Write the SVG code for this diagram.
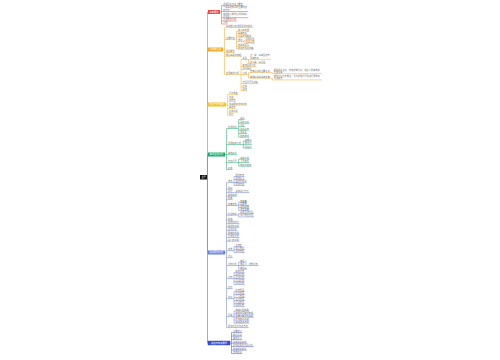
<svg xmlns="http://www.w3.org/2000/svg" width="500" height="360" viewBox="0 0 500 360">
<style>
text{font-family:"Noto Sans CJK SC","Noto Sans",sans-serif}
.t{font-size:2.2px;fill:#777}
.h{font-size:2.3px;fill:#fff;text-anchor:middle}
.c{fill:none;stroke-width:0.5}
.cr{stroke:#e8473f}.co{stroke:#f5a623}.cy{stroke:#f0c21e}.cg{stroke:#16a96a}.cb{stroke:#6b7fdb}.cd{stroke:#3d4ed6}
</style>
<rect width="500" height="360" fill="#fff"/>
<g id="connectors">
<path class="c cr" d="M207.5 177V12H208"/>
<path class="c co" d="M207.5 177V49.5H208"/>
<path class="c cy" d="M207.5 177V104.5H208"/>
<path class="c cg" d="M207.5 177V154.5H208"/>
<path class="c cd" d="M207.5 177V343H208"/>
<path class="c cb" d="M207.5 177V252.5H208"/>
<path class="c cr" d="M220 12H221.5M221.5 5.6V24M221.5 5.6h22.2M221.5 11.5h26.8M221.5 17.7h26.8M221.5 21h15.3M221.5 24h6.1"/>
<path class="c co" d="M223 49.5H224.5M224.5 27.6V74.6M224.5 27.6h29.1M224.5 39.6H236.5M236.5 31.1V49.1M236.5 31.1h13M236.5 34.1h10.7M236.5 37.1h15.3M236.5 41.6H244M244 40.2V43.2M244 40.2h10.7M244 43.2h10.7M236.5 46.1h13M236.5 49.1h17.6M224.5 52.6h10.7M224.5 56.1h17.6M224.5 74.6H241M241 59.6V90.6M241 59.6H248.5M248.5 59.3V63.1M248.5 59.3h22.2M248.5 63.1h17.6M241 66.6h15.3M241 69.6h10.7M241 74.6H248.5M248.5 72.6V78.1M248.5 72.6H272.2V73.7H322M248.5 78.1H272.2V79.9H322M241 83.6h17.6M241 87.1h6.1M241 90.6h6.1"/>
<path class="c cy" d="M226 104.5H227.5M227.5 94.6V115.6M227.5 94.6h10.7M227.5 98.1h6.1M227.5 101.6h8.4M227.5 105.1h19.9M227.5 108.6h8.4M227.5 112.1h10.7M227.5 115.6h6.1"/>
<path class="c cg" d="M225 154.5H226.5M226.5 128.6V169.6M226.5 128.6H238.7M238.7 119.6V137.1M238.7 119.6h6.1M238.7 123.1h10.7M238.7 126.6h6.1M238.7 130.1h10.7M238.7 133.6h8.4M238.7 137.1h10.7M226.5 144.6H243.3M243.3 141.1V148.1M243.3 141.1h8.4M243.3 144.6h8.4M243.3 148.1h8.4M226.5 154.6h10.7M226.5 162.6H238.7M238.7 159.1V166.1M238.7 159.1h10.7M238.7 162.6h10.7M238.7 166.1h13M226.5 169.6h6.1"/>
<path class="c cb" d="M225 252.5H226.5M226.5 182.6V327.6M226.5 182.6H234M234 176.6V185.6M234 176.6h10.7M234 179.6h10.7M234 182.6h13M234 185.6h10.7M226.5 189.1h6.1M226.5 192.6H249.3M226.5 196.1h10.7M226.5 199.6h6.1M226.5 205.6H238.7M238.7 202.1V210.5M238.7 202.1h8.4M238.7 204.9h8.4M238.7 207.7h10.7M238.7 210.5h10.7M226.5 215.1H238.7M238.7 213.6V216.9M238.7 213.6h15.3M238.7 216.9h15.3M226.5 220.1h6.1M226.5 223.6h13M226.5 227.1h13M226.5 230.6h10.7M226.5 234.1h13M226.5 237.6h13M226.5 241.1h13M226.5 250.6H234M234 246.6V252.6M234 246.6h8.4M234 249.6h10.7M234 252.6h10.7M226.5 257.6h6.1M226.5 265.6H238.7M238.7 262.1V269.1M238.7 262.1h8.4M238.7 265.6h19.9M238.7 269.1h8.4M226.5 278.6H234M234 272.6V284.6M234 272.6h10.7M234 275.6h10.7M234 278.6h10.7M234 281.6h10.7M234 284.6h10.7M226.5 288.6h6.1M226.5 298.6H234M234 291.6V306.6M234 291.6h10.7M234 294.6h10.7M234 297.6h10.7M234 300.6h10.7M234 303.6h10.7M234 306.6h10.7M226.5 316.6H234M234 311.1V323.1M234 311.1h15.3M234 314.1h19.9M234 317.1h19.9M234 320.1h15.3M234 323.1h15.3M226.5 327.6h22.2"/>
<path class="c cd" d="M230 343H231.5M231.5 332.6V353.6M231.5 332.6h10.7M231.5 336.1h10.7M231.5 339.6h10.7M231.5 343.1h15.3M231.5 346.6h22.2M231.5 350.1h15.3M231.5 353.6h10.7"/>
</g>
<g id="root"><rect x="200" y="175" width="7" height="4.5" fill="#111"/><text class="h" x="203.5" y="178" style="font-size:2px">主题</text></g>
<g id="n-red"><rect x="208" y="10" width="12" height="4" fill="#e8473f"/><text class="h" x="214" y="12.8">基本概述</text></g>
<g id="n-orange"><rect x="208" y="47.5" width="15" height="4" fill="#f5a623"/><text class="h" x="215.5" y="50.3">基础理论篇</text></g>
<g id="n-yellow"><rect x="208" y="102.5" width="18" height="4" fill="#f0c21e"/><text class="h" x="217" y="105.3" style="font-size:2.2px">研究方法与路线</text></g>
<g id="n-green"><rect x="208" y="152.5" width="17" height="4" fill="#16a96a"/><text class="h" x="216.5" y="155.3">实践应用分析</text></g>
<g id="n-blue"><rect x="208" y="250.5" width="17" height="4" fill="#6b7fdb"/><text class="h" x="216.5" y="253.3">案例研究分析</text></g>
<g id="n-dark"><rect x="208" y="341" width="22" height="4" fill="#3d4ed6" stroke="#2a38a8" stroke-width="0.4"/><text class="h" x="219" y="343.8">总结与未来展望</text></g>
<g id="r1"><text class="t" x="223" y="5">课程目标与学习要求</text></g>
<g id="r2"><text class="t"><tspan x="223" y="8.4">了解基础知识的主要内容</tspan><tspan x="223" y="10.9">和方法</tspan></text></g>
<g id="r3"><text class="t"><tspan x="223" y="14.6">掌握核心概念之间的联系</tspan><tspan x="223" y="17.1">与区别</tspan></text></g>
<g id="r4"><text class="t" x="223" y="20.4">重点难点分析</text></g>
<g id="r5"><text class="t" x="223" y="23.4">小结</text></g>
<g id="o1"><text class="t" x="226" y="27">基础理论的发展历程与现状</text></g>
<g id="o2"><text class="t" x="226" y="39">主要内容</text></g>
<g id="o2a"><text class="t" x="238" y="30.5">定义与内涵</text></g>
<g id="o2b"><text class="t" x="238" y="33.5">基本特征</text></g>
<g id="o2c"><text class="t" x="238" y="36.5">分类方法概述</text></g>
<g id="o2d"><text class="t" x="238" y="41">原则</text></g>
<g id="o2d1"><text class="t" x="245.5" y="39.6">适用范围</text></g>
<g id="o2d2"><text class="t" x="245.5" y="42.6">注意事项</text></g>
<g id="o2e"><text class="t" x="238" y="45.5">作用与意义</text></g>
<g id="o2f"><text class="t" x="238" y="48.5">研究方法及步骤</text></g>
<g id="o3"><text class="t" x="226" y="52">相关概念</text></g>
<g id="o4"><text class="t" x="226" y="55.5">理论基础与依据</text></g>
<g id="o5"><text class="t" x="226" y="74">应用实践分析</text></g>
<g id="p1"><text class="t" x="242.5" y="59">类型</text></g>
<g id="p1a"><text class="t"><tspan x="250" y="56.2">第一类：基本型结构</tspan><tspan x="250" y="58.7">及其特点</tspan></text></g>
<g id="p1b"><text class="t" x="250" y="62.5">第二类：复合型</text></g>
<g id="p2"><text class="t" x="242.5" y="66">影响因素分析</text></g>
<g id="p3"><text class="t" x="242.5" y="69">评价指标</text></g>
<g id="p4"><text class="t" x="242.5" y="74">过程</text></g>
<g id="q1"><text class="t" x="250" y="72">准备阶段的主要任务</text></g>
<g id="q1a"><text class="t"><tspan x="273.7" y="70.6">明确目标任务，制定详细计划，组织人员实施并</tspan><tspan x="273.7" y="73.1">检查落实</tspan></text></g>
<g id="q2"><text class="t" x="250" y="77.5">实施阶段的具体步骤</text></g>
<g id="q2a"><text class="t"><tspan x="273.7" y="76.8">按照计划分步推进，及时发现问题并进行调整和</tspan><tspan x="273.7" y="79.3">改进完善</tspan></text></g>
<g id="p5"><text class="t" x="242.5" y="83">常见问题及对策</text></g>
<g id="p6"><text class="t" x="242.5" y="86.5">案例</text></g>
<g id="p7"><text class="t" x="242.5" y="90">总结</text></g>
<g id="y1"><text class="t" x="229" y="94">问卷调查</text></g>
<g id="y2"><text class="t" x="229" y="97.5">访谈</text></g>
<g id="y3"><text class="t" x="229" y="101">观察法</text></g>
<g id="y4"><text class="t" x="229" y="104.5">文献研究法与比较</text></g>
<g id="y5"><text class="t" x="229" y="108">实验法</text></g>
<g id="y6"><text class="t" x="229" y="111.5">案例分析</text></g>
<g id="y7"><text class="t" x="229" y="115">统计</text></g>
<g id="g1"><text class="t" x="228" y="128">应用领域</text></g>
<g id="g1a"><text class="t" x="240.2" y="119">教育</text></g>
<g id="g1b"><text class="t" x="240.2" y="122.5">医疗卫生</text></g>
<g id="g1c"><text class="t" x="240.2" y="126">工业</text></g>
<g id="g1d"><text class="t" x="240.2" y="129.5">农业生产</text></g>
<g id="g1e"><text class="t" x="240.2" y="133">服务业</text></g>
<g id="g1f"><text class="t" x="240.2" y="136.5">信息技术</text></g>
<g id="g2"><text class="t" x="228" y="144">发展趋势分析</text></g>
<g id="g2a"><text class="t" x="244.8" y="140.5">智能化</text></g>
<g id="g2b"><text class="t" x="244.8" y="144">数字化</text></g>
<g id="g2c"><text class="t" x="244.8" y="147.5">绿色化</text></g>
<g id="g3"><text class="t" x="228" y="154">实施条件</text></g>
<g id="g4"><text class="t" x="228" y="162">存在问题</text></g>
<g id="g4a"><text class="t" x="240.2" y="158.5">资金不足</text></g>
<g id="g4b"><text class="t" x="240.2" y="162">人才缺乏</text></g>
<g id="g4c"><text class="t" x="240.2" y="165.5">制度不完善</text></g>
<g id="g5"><text class="t" x="228" y="169">对策</text></g>
<g id="b1"><text class="t" x="228" y="182">背景</text></g>
<g id="b1a"><text class="t" x="235.5" y="176">研究背景</text></g>
<g id="b1b"><text class="t" x="235.5" y="179">研究意义</text></g>
<g id="b1c"><text class="t" x="235.5" y="182">国内外现状</text></g>
<g id="b1d"><text class="t" x="235.5" y="185">研究内容</text></g>
<g id="b2"><text class="t" x="228" y="188.5">目标</text></g>
<g id="b3"><text class="t" x="228" y="192">设计</text></g>
<g id="b3a"><text class="t" x="235.5" y="192">总体设计方案</text></g>
<g id="b4"><text class="t" x="228" y="195.5">数据来源</text></g>
<g id="b5"><text class="t" x="228" y="199">样本</text></g>
<g id="b6"><text class="t" x="228" y="205">变量选取</text></g>
<g id="b6a"><text class="t" x="240.2" y="201.5">自变量</text></g>
<g id="b6b"><text class="t" x="240.2" y="204.3">因变量</text></g>
<g id="b6c"><text class="t" x="240.2" y="207.1">控制变量</text></g>
<g id="b6d"><text class="t" x="240.2" y="209.9">调节变量</text></g>
<g id="b7"><text class="t" x="228" y="214.5">模型构建</text></g>
<g id="b7a"><text class="t" x="240.2" y="213">基准回归模型</text></g>
<g id="b7b"><text class="t" x="240.2" y="216.3">中介效应模型</text></g>
<g id="b8"><text class="t" x="228" y="219.5">检验</text></g>
<g id="b9"><text class="t" x="228" y="223">描述性统计</text></g>
<g id="b10"><text class="t" x="228" y="226.5">相关性分析</text></g>
<g id="b11"><text class="t" x="228" y="230">回归分析</text></g>
<g id="b12"><text class="t" x="228" y="233.5">稳健性检验</text></g>
<g id="b13"><text class="t" x="228" y="237">异质性分析</text></g>
<g id="b14"><text class="t" x="228" y="240.5">进一步分析</text></g>
<g id="b15"><text class="t" x="228" y="250">结果</text></g>
<g id="b15a"><text class="t" x="235.5" y="246">主效应</text></g>
<g id="b15b"><text class="t" x="235.5" y="249">中介效应</text></g>
<g id="b15c"><text class="t" x="235.5" y="252">调节效应</text></g>
<g id="b16"><text class="t" x="228" y="257">讨论</text></g>
<g id="b17"><text class="t" x="228" y="265">机制分析</text></g>
<g id="b17a"><text class="t" x="240.2" y="261.5">路径一</text></g>
<g id="b17b"><text class="t" x="240.2" y="265">路径二：传导机制</text></g>
<g id="b17c"><text class="t" x="240.2" y="268.5">路径三</text></g>
<g id="b18"><text class="t" x="228" y="278">比较</text></g>
<g id="b18a"><text class="t" x="235.5" y="272">横向比较</text></g>
<g id="b18b"><text class="t" x="235.5" y="275">纵向比较</text></g>
<g id="b18c"><text class="t" x="235.5" y="278">区域比较</text></g>
<g id="b18d"><text class="t" x="235.5" y="281">行业比较</text></g>
<g id="b18e"><text class="t" x="235.5" y="284">时间比较</text></g>
<g id="b19"><text class="t" x="228" y="288">启示</text></g>
<g id="b20"><text class="t" x="228" y="298">建议</text></g>
<g id="b20a"><text class="t" x="235.5" y="291">政府层面</text></g>
<g id="b20b"><text class="t" x="235.5" y="294">企业层面</text></g>
<g id="b20c"><text class="t" x="235.5" y="297">个人层面</text></g>
<g id="b20d"><text class="t" x="235.5" y="300">社会层面</text></g>
<g id="b20e"><text class="t" x="235.5" y="303">行业协会</text></g>
<g id="b20f"><text class="t" x="235.5" y="306">科研机构</text></g>
<g id="b21"><text class="t" x="228" y="316">局限</text></g>
<g id="b21a"><text class="t" x="235.5" y="310.5">样本范围有限</text></g>
<g id="b21b"><text class="t" x="235.5" y="313.5">数据时间跨度较短</text></g>
<g id="b21c"><text class="t" x="235.5" y="316.5">变量测量存在偏差</text></g>
<g id="b21d"><text class="t" x="235.5" y="319.5">方法有待改进</text></g>
<g id="b21e"><text class="t" x="235.5" y="322.5">未来研究方向</text></g>
<g id="b22"><text class="t" x="228" y="327">研究不足与改进方向</text></g>
<g id="d1"><text class="t" x="233" y="332">主要结论</text></g>
<g id="d2"><text class="t" x="233" y="335.5">理论贡献</text></g>
<g id="d3"><text class="t" x="233" y="339">实践意义</text></g>
<g id="d4"><text class="t" x="233" y="342.5">政策建议总结</text></g>
<g id="d5"><text class="t" x="233" y="346">研究局限与不足之处</text></g>
<g id="d6"><text class="t" x="233" y="349.5">未来研究展望</text></g>
<g id="d7"><text class="t" x="233" y="353">参考文献</text></g>
</svg>
